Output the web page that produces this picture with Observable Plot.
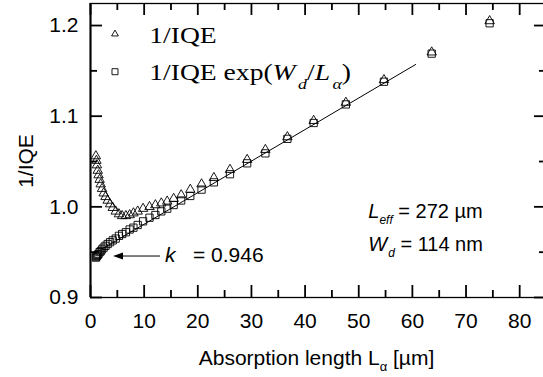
<!DOCTYPE html>
<html><head><meta charset="utf-8">
<script src="https://cdn.jsdelivr.net/npm/d3@7"></script>
<script src="https://cdn.jsdelivr.net/npm/@observablehq/plot@0.6"></script>
<style>body{margin:0;background:#fff}</style>
</head><body><div id="chart"></div>
<script>
// Absorption length L_alpha [µm]
const absLength = [1.0, 1.1, 1.2, 1.35, 1.5, 1.7, 1.9, 2.15, 2.45, 2.8, 3.2, 3.65, 4.15, 4.7, 5.3, 5.9, 6.6, 7.3, 8.0, 8.8, 9.8, 11.0, 12.1, 13.2, 14.3, 15.5, 16.9, 18.6, 20.7, 23.0, 26.0, 29.2, 32.6, 36.7, 41.6, 47.6, 54.7, 63.6, 74.4];
// 1/IQE (triangles)
const invIQE = [1.056, 1.051, 1.046, 1.040, 1.035, 1.030, 1.025, 1.020, 1.015, 1.011, 1.007, 1.003, 0.999, 0.995, 0.992, 0.990, 0.990, 0.991, 0.993, 0.995, 0.998, 1.000, 1.002, 1.004, 1.006, 1.009, 1.013, 1.019, 1.025, 1.032, 1.041, 1.052, 1.063, 1.077, 1.095, 1.115, 1.140, 1.1705, 1.205];
// 1/IQE exp(Wd/La) (squares)
const invIQEcorr = [0.944, 0.945, 0.946, 0.947, 0.948, 0.950, 0.951, 0.953, 0.955, 0.957, 0.959, 0.961, 0.963, 0.965, 0.968, 0.970, 0.972, 0.975, 0.977, 0.980, 0.984, 0.988, 0.991, 0.995, 0.998, 1.002, 1.007, 1.012, 1.019, 1.027, 1.036, 1.048, 1.059, 1.075, 1.0925, 1.113, 1.138, 1.169, 1.2025];
// linear fit line end points
const fitX = [1.0, 60.6];
const fitY = [0.9495, 1.157];
// ticks
const xTicks = [0, 10, 20, 30, 40, 50, 60, 70, 80];
const xMinorTicks = [5, 15, 25, 35, 45, 55, 65, 75];
const yTicks = [0.9, 1.0, 1.1, 1.2];
const yMinorTicks = [0.95, 1.05, 1.15];
// annotation texts
const kText = "= 0.946";
const leffText = " = 272 µm";
const wdText = " = 114 nm";

const sans = "'Liberation Sans', Arial, Helvetica, sans-serif";
const serif = "'Liberation Serif', 'Times New Roman', serif";

const W = 543, H = 377, mL = 90, mR = -3, mT = 3, mB = 80;
const xDom = [0, 85], yDom = [0.9, 1.2243];
const xPerPx = (xDom[1] - xDom[0]) / (W - mL - mR);
const yPerPx = (yDom[1] - yDom[0]) / (H - mT - mB);

const pts = absLength.map((x, i) => ({x, tri: invIQE[i], sq: invIQEcorr[i]}));
const fit = fitX.map((x, i) => ({x, y: fitY[i]}));

// inward tick marks drawn as Plot rules on all four sides
const tk = {stroke: "black", strokeWidth: 1.8};
const ticksX = (data, len) => [
  Plot.ruleX(data, {...tk, x: d => d, y1: yDom[0], y2: yDom[0] + len * yPerPx}),
  Plot.ruleX(data, {...tk, x: d => d, y1: yDom[1], y2: yDom[1] - len * yPerPx})
];
const ticksY = (data, len) => [
  Plot.ruleY(data, {...tk, y: d => d, x1: xDom[0], x2: xDom[0] + len * xPerPx}),
  Plot.ruleY(data, {...tk, y: d => d, x1: xDom[1], x2: xDom[1] - len * xPerPx})
];

const plot = Plot.plot({
  width: W, height: H,
  marginLeft: mL, marginRight: mR, marginTop: mT, marginBottom: mB,
  style: {fontFamily: sans, fontSize: "21px", background: "white"},
  x: {domain: xDom},
  y: {domain: yDom},
  marks: [
    Plot.frame({stroke: "black", strokeWidth: 1.3}),
    Plot.ruleX([0], {stroke: "black", strokeWidth: 2}),
    Plot.axisX(xTicks, {anchor: "bottom", tickSize: 0, tickPadding: 16, label: null}),
    Plot.axisY(yTicks, {anchor: "left", tickSize: 0, tickPadding: 12, tickFormat: d3.format(".1f"), label: null}),
    ...ticksX(xTicks, 12), ...ticksX(xMinorTicks, 7),
    ...ticksY(yTicks, 12), ...ticksY(yMinorTicks, 7),
    Plot.line(fit, {x: "x", y: "y", stroke: "black", strokeWidth: 1}),
    Plot.dot(pts, {x: "x", y: "tri", symbol: "triangle", r: 3.5, stroke: "black", strokeWidth: 0.9, fill: "none"}),
    Plot.dot(pts, {x: "x", y: "sq", symbol: "square", r: 4.1, stroke: "black", strokeWidth: 0.9, fill: "none"})
  ]
});
document.getElementById("chart").appendChild(plot);

const sx = plot.scale("x").apply, sy = plot.scale("y").apply;
const svg = d3.select(plot);

function rich(x, y, parts, font, size, opts = {}) {
  const g = svg.append("g").attr("transform", `translate(${x},${y})${opts.rotate ? ` rotate(${opts.rotate})` : ""} scale(${opts.sx || 1},1)`);
  const t = g.append("text").attr("font-family", font).attr("font-size", size).attr("fill", "black")
    .attr("text-anchor", opts.anchor || "start");
  let shift = 0;
  for (const p of parts) {
    const ts = t.append("tspan").text(p.t);
    const target = p.dy || 0;
    if (target !== shift) { ts.attr("dy", target - shift); shift = target; }
    if (p.it) ts.attr("font-style", "italic");
    if (p.size) ts.attr("font-size", p.size);
    if (p.dx) ts.attr("dx", p.dx);
  }
  return t;
}

// legend
const legX = 4.66, legTextX = 11.05;
svg.append("path").attr("d", d3.symbol(d3.symbolTriangle, 20)())
  .attr("transform", `translate(${sx(legX)},${sy(1.1901)})`).attr("fill", "none").attr("stroke", "black").attr("stroke-width", 0.9);
svg.append("path").attr("d", d3.symbol(d3.symbolSquare, 36)())
  .attr("transform", `translate(${sx(legX)},${sy(1.1485)})`).attr("fill", "none").attr("stroke", "black").attr("stroke-width", 0.9);
rich(sx(legTextX), sy(1.1798), [{t: "1/IQE"}], serif, 23, {sx: 1.2});
rich(sx(legTextX), sy(1.1394), [
  {t: "1/IQE exp("}, {t: "W", it: true}, {t: "d", it: true, size: 15, dy: 9, dx: 2},
  {t: "/", dy: 0}, {t: "L", it: true}, {t: "α", it: true, size: 15, dy: 9, dx: 2}, {t: ")", dy: 0}
], serif, 23, {sx: 1.2});

// Leff / Wd annotation
rich(sx(51.87), sy(0.9868), [{t: "L", it: true}, {t: "eff", it: true, size: 12, dy: 6}, {t: leffText, dy: 0}], sans, 20);
rich(sx(51.87), sy(0.9508), [{t: "W", it: true}, {t: "d", it: true, size: 12, dy: 6, dx: 1}, {t: wdText, dy: 0}], sans, 20);

// k annotation with arrow
rich(sx(13.98), sy(0.9390), [{t: "k", it: true}], sans, 21);
rich(sx(19.2), sy(0.9390), [{t: kText}], sans, 21);
const ay = sy(0.9452), ax0 = sx(13.05), ax1 = sx(4.29);
svg.append("line").attr("x1", ax0).attr("x2", ax1 + 8).attr("y1", ay).attr("y2", ay).attr("stroke", "black").attr("stroke-width", 1);
svg.append("path").attr("d", `M${ax1},${ay}L${ax1 + 10},${ay - 3.5}L${ax1 + 10},${ay + 3.5}Z`).attr("fill", "black");

// axis titles
rich((90 + 543) / 2, 365, [{t: "Absorption length L"}, {t: "α", size: 13, dy: 6}, {t: " [µm]", dy: 0}], sans, 21, {anchor: "middle"});
rich(33, 161, [{t: "1/IQE"}], sans, 21, {anchor: "middle", rotate: -90});
</script>
</body></html>
